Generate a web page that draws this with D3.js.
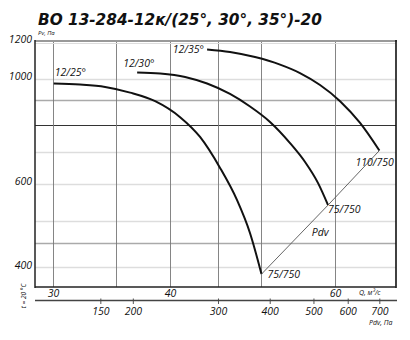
<!DOCTYPE html>
<html>
<head>
<meta charset="utf-8">
<script src="https://cdnjs.cloudflare.com/ajax/libs/d3/7.8.5/d3.min.js"></script>
<style>
  body { margin: 0; background: #fff; }
  svg { display: block; }
  text { font-family: "Open Sans", sans-serif; font-style: italic; fill: #111; }
  .title { font-family: "DejaVu Sans", sans-serif; font-weight: bold; font-style: oblique; }
  .curve { fill: none; stroke: #111; stroke-width: 2px; }
  .pdv { fill: none; stroke: #555; stroke-width: 0.9px; }
</style>
</head>
<body>
<script>
// fan curves, [Q m3/s, Pv Pa]
var curve25 = [[30.05, 976], [32.06, 971], [34.10, 960], [36.26, 934], [38.56, 896], [41.00, 829],
               [43.06, 753], [45.23, 648], [47.16, 554], [48.69, 472], [50.08, 387]];
var curve30 = [[36.89, 1030], [39.04, 1025], [41.51, 1008], [43.81, 976], [46.35, 928], [48.69, 873],
               [51.14, 810], [53.72, 731], [55.74, 667], [57.55, 602], [58.98, 541]];
var curve35 = [[43.81, 1152], [46.35, 1138], [49.29, 1110], [52.42, 1070], [55.05, 1027], [57.83, 969],
               [60.75, 896], [63.81, 806], [66.91, 705]];

var curveNames = ["12/25°", "12/30°", "12/35°"];
var endNames = ["75/750", "75/750", "110/750"];

var qGrid = [30, 35, 40, 45, 50, 60];
var qLabels = [30, 40, 60];
var pGrid = [1000, 900, 800, 700, 600, 500, 450, 400];
var pLabels = [1200, 1000, 600, 400];

// Pdv scale below the chart and the Q each tick stands over
var pdvTicks = [150, 200, 300, 400, 500, 600, 700];
var pdvQ = [33.7, 36.5, 45.0, 51.1, 56.9, 61.9, 66.9];

var W = 410, H = 340;
var m = {left: 35, right: 396, top: 41, bottom: 287};

var svg = d3.select("body").append("svg")
    .attr("width", W).attr("height", H);

var x = d3.scaleLog().domain([28.7, 69.7]).range([m.left, m.right]);
var y = d3.scaleLog().domain([363.5, 1200]).range([m.bottom, m.top]);

// horizontal grid
function hColor(v) {
  if (v === 800) return "#333";
  if (v === 900 || v === 450) return "#aaa";
  return "#ddd";
}
svg.append("g").selectAll("line")
  .data(pGrid).enter().append("line")
    .attr("x1", m.left).attr("x2", m.right)
    .attr("y1", function(d) { return Math.round(y(d)) + 0.5; })
    .attr("y2", function(d) { return Math.round(y(d)) + 0.5; })
    .attr("stroke", hColor)
    .attr("stroke-width", function(d) { return d === 800 ? 1.2 : 1.3; });

// vertical grid
svg.append("g").selectAll("line")
  .data(qGrid).enter().append("line")
    .attr("x1", function(d) { return Math.round(x(d)) + 0.5; })
    .attr("x2", function(d) { return Math.round(x(d)) + 0.5; })
    .attr("y1", m.top).attr("y2", m.bottom)
    .attr("stroke", "#777").attr("stroke-width", 0.9);

// frame
svg.append("line").attr("x1", m.left).attr("x2", m.right + 1).attr("y1", m.top).attr("y2", m.top)
   .attr("stroke", "#999").attr("stroke-width", 2);
svg.append("line").attr("x1", m.left).attr("x2", m.right).attr("y1", m.top + 2.5).attr("y2", m.top + 2.5)
   .attr("stroke", "#ddd").attr("stroke-width", 1);
svg.append("line").attr("x1", m.left).attr("x2", m.left).attr("y1", m.top - 1).attr("y2", m.bottom + 1)
   .attr("stroke", "#222").attr("stroke-width", 1.5);
svg.append("line").attr("x1", m.right).attr("x2", m.right).attr("y1", m.top - 1).attr("y2", m.bottom + 1)
   .attr("stroke", "#111").attr("stroke-width", 1.6);
svg.append("line").attr("x1", m.left).attr("x2", m.right).attr("y1", m.bottom).attr("y2", m.bottom)
   .attr("stroke", "#222").attr("stroke-width", 1.5);

// curves
var line = d3.line()
    .x(function(d) { return x(d[0]); })
    .y(function(d) { return y(d[1]); })
    .curve(d3.curveMonotoneX);

var curves = [curve25, curve30, curve35];
svg.append("g").selectAll("path")
  .data(curves).enter().append("path")
    .attr("class", "curve")
    .attr("d", line);

// Pdv line through the curve ends
var ends = curves.map(function(c) { return c[c.length - 1]; });
svg.append("path").attr("class", "pdv")
   .attr("d", d3.line().x(function(d) { return x(d[0]); }).y(function(d) { return y(d[1]); })(ends));

// curve names
var nameOff = [[1, -8, "start"], [-14, -5, "start"], [-3, 3.5, "end"]];
svg.append("g").selectAll("text")
  .data(curves).enter().append("text")
    .attr("x", function(d, i) { return x(d[0][0]) + nameOff[i][0]; })
    .attr("y", function(d, i) { return y(d[0][1]) + nameOff[i][1]; })
    .attr("text-anchor", function(d, i) { return nameOff[i][2]; })
    .attr("font-size", 10.5)
    .text(function(d, i) { return curveNames[i]; });

var endOff = [[6, 3.5], [0, 8], [-24, 15.5]];
svg.append("g").selectAll("text")
  .data(ends).enter().append("text")
    .attr("x", function(d, i) { return x(d[0]) + endOff[i][0]; })
    .attr("y", function(d, i) { return y(d[1]) + endOff[i][1]; })
    .attr("font-size", 10.5)
    .text(function(d, i) { return endNames[i]; });

svg.append("text")
   .attr("x", (x(ends[0][0]) + x(ends[1][0])) / 2 + 17)
   .attr("y", (y(ends[0][1]) + y(ends[1][1])) / 2 - 4)
   .attr("font-size", 10.5)
   .text("Pdv");

// Pv axis labels
var yAxis = d3.axisLeft(y).tickValues(pLabels).tickSize(0).tickPadding(3)
    .tickFormat(d3.format("d"));
svg.append("g").attr("transform", "translate(" + m.left + ",0)")
   .call(yAxis)
   .call(function(g) { g.select(".domain").remove(); })
   .selectAll("text")
     .attr("font-family", "Open Sans").attr("font-style", "italic")
     .attr("font-size", 10.5).attr("fill", "#111").attr("dy", "0.1em");

// Q axis labels
var xAxis = d3.axisBottom(x).tickValues(qLabels).tickSize(0).tickPadding(3)
    .tickFormat(d3.format("d"));
svg.append("g").attr("transform", "translate(0," + m.bottom + ")")
   .call(xAxis)
   .call(function(g) { g.select(".domain").remove(); })
   .selectAll("text")
     .attr("font-family", "Open Sans").attr("font-style", "italic")
     .attr("font-size", 10.5).attr("fill", "#111");

// Pdv axis
var pdvToQ = d3.scaleLinear().domain(pdvTicks).range(pdvQ);
var pdvX = d3.scaleLinear().domain(pdvTicks).range(pdvTicks.map(function(p) { return x(pdvToQ(p)); }));
var pdvAxis = d3.axisBottom(pdvX).tickValues(pdvTicks).tickSize(4).tickPadding(3.5)
    .tickFormat(d3.format("d"));
var pg = svg.append("g").attr("transform", "translate(0,300)").call(pdvAxis);
pg.select(".domain").remove();
pg.selectAll(".tick line").attr("stroke", "#555").attr("y1", -1.5);
pg.selectAll("text")
  .attr("font-family", "Open Sans").attr("font-style", "italic")
  .attr("font-size", 10.5).attr("fill", "#111");
svg.append("line").attr("x1", m.left).attr("x2", m.right + 1).attr("y1", 300.5).attr("y2", 300.5)
   .attr("stroke", "#444").attr("stroke-width", 1.4);

// titles and units
svg.append("text").attr("class", "title")
   .attr("x", 38).attr("y", 25).attr("font-size", 15.3)
   .text("ВО 13-284-12к/(25°, 30°, 35°)-20");
svg.append("text").attr("x", 38).attr("y", 35).attr("font-size", 6).text("Pv, Па");
svg.append("text").attr("x", 359).attr("y", 295).attr("font-size", 7).text("Q, м³/с");
svg.append("text").attr("x", 369).attr("y", 324.5).attr("font-size", 7).text("Pdv, Па");
svg.append("text")
   .attr("transform", "translate(26,296) rotate(-90)")
   .attr("text-anchor", "middle").attr("font-size", 6.5)
   .text("t = 20 °C");
</script>
</body>
</html>
